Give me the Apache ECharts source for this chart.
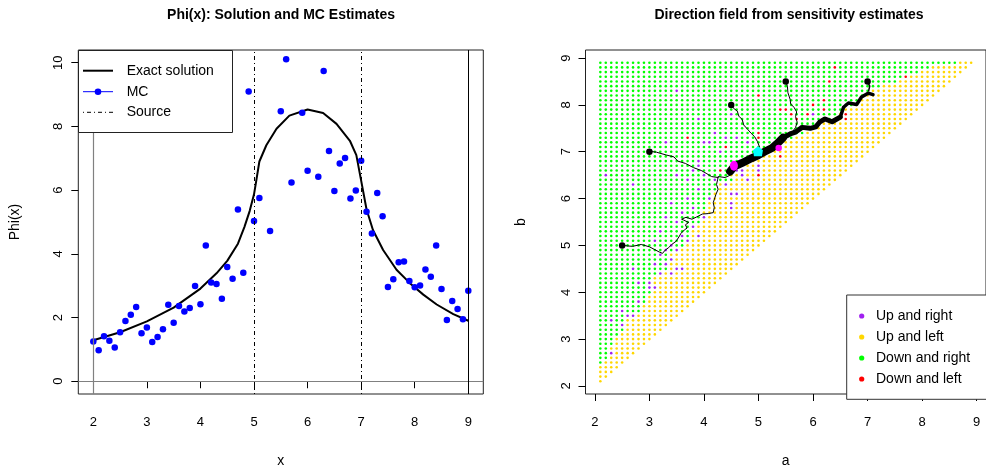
<!DOCTYPE html>
<html>
<head>
<meta charset="utf-8">
<script src="https://cdn.jsdelivr.net/npm/echarts@6/dist/echarts.min.js"></script>
<style>
  html, body { margin: 0; padding: 0; background: #fff; }
  #chart { width: 986px; height: 473px; }
</style>
</head>
<body>
<div id="chart"></div>
<script>
// ---- left panel: Phi(x) ----
var xTicks = [2, 3, 4, 5, 6, 7, 8, 9];
var phiTicks = [0, 2, 4, 6, 8, 10];

// exact solution
var exactX = [2.0, 2.5, 3.0, 3.5, 4.0, 4.3, 4.5, 4.7, 4.82, 4.92, 5.0, 5.05, 5.1, 5.23, 5.42, 5.66, 6.0, 6.29, 6.54, 6.79, 6.91, 7.0, 7.1, 7.22, 7.41, 7.66, 7.91, 8.16, 8.41, 8.72, 9.0];
var exactY = [1.29, 1.54, 1.88, 2.31, 2.91, 3.39, 3.78, 4.32, 4.84, 5.35, 5.87, 6.38, 6.90, 7.41, 7.93, 8.34, 8.53, 8.42, 8.08, 7.55, 7.10, 6.30, 5.40, 4.75, 4.12, 3.50, 3.08, 2.72, 2.41, 2.11, 1.90];

// MC estimates at x = 2.0, 2.1, ... 9.0 (null = outside the plot)
var mcX = [2.0, 2.1, 2.2, 2.3, 2.4, 2.5, 2.6, 2.7, 2.8, 2.9, 3.0, 3.1, 3.2, 3.3, 3.4, 3.5, 3.6, 3.7, 3.8, 3.9,
           4.0, 4.1, 4.2, 4.3, 4.4, 4.5, 4.6, 4.7, 4.8, 4.9, 5.0, 5.1, 5.2, 5.3, 5.4, 5.5, 5.6, 5.7, 5.8, 5.9,
           6.0, 6.1, 6.2, 6.3, 6.4, 6.5, 6.6, 6.7, 6.8, 6.9, 7.0, 7.1, 7.2, 7.3, 7.4, 7.5, 7.6, 7.7, 7.8, 7.9,
           8.0, 8.1, 8.2, 8.3, 8.4, 8.5, 8.6, 8.7, 8.8, 8.9, 9.0];
var mcY = [1.25, 0.97, 1.41, 1.27, 1.06, 1.54, 1.89, 2.09, 2.33, 1.51, 1.69, 1.23, 1.39, 1.63, 2.40, 1.84, 2.36, 2.19, 2.30, 2.99,
           2.42, 4.26, 3.10, 3.05, 2.59, 3.59, 3.22, 5.39, 3.41, 9.10, 5.03, 5.75, null, 4.72, null, 8.48, 10.11, 6.24, null, 8.43,
           6.61, null, 6.42, 9.74, 7.23, 5.97, 6.84, 7.01, 5.74, 5.99, 6.92, 5.32, 4.64, 5.91, 5.18, 2.96, 3.20, 3.74, 3.76, 3.15,
           2.95, 3.01, 3.51, 3.28, 4.26, 2.90, 1.92, 2.52, 2.27, 1.95, 2.84];

// ---- right panel: direction field ----
var abTicks = [2, 3, 4, 5, 6, 7, 8, 9];
// grid values used for both a and b (points with b >= a)
var gridVals = [2.1, 2.2, 2.3, 2.4, 2.5, 2.6, 2.7, 2.8, 2.9, 3.0, 3.1, 3.2, 3.3, 3.4, 3.5, 3.6, 3.7, 3.8, 3.9, 4.0,
                4.1, 4.2, 4.3, 4.4, 4.5, 4.6, 4.7, 4.8, 4.9, 5.0, 5.1, 5.2, 5.3, 5.4, 5.5, 5.6, 5.7, 5.8, 5.9, 6.0,
                6.1, 6.2, 6.3, 6.4, 6.5, 6.6, 6.7, 6.8, 6.9, 7.0, 7.1, 7.2, 7.3, 7.4, 7.5, 7.6, 7.7, 7.8, 7.9, 8.0,
                8.1, 8.2, 8.3, 8.4, 8.5, 8.6, 8.7, 8.8, 8.9];
// per row of b: first column index that is "Up and left" (left of it: "Down and right")
var yellowFrom = [0, 0, 0, 0, 1, 2, 2, 2, 3, 3, 4, 5, 5, 5, 7, 8, 8, 9, 9, 10,
                  11, 10, 10, 12, 13, 13, 14, 13, 14, 16, 16, 17, 17, 18, 19, 19, 19, 20, 20, 21,
                  21, 22, 22, 25, 24, 25, 26, 27, 30, 30, 32, 34, 36, 38, 40, 41, 43, 44, 45, 47,
                  48, 49, 50, 52, 55, 57, 59, 61, 66];
// [column, row] cells that are "Up and right"
var purpleCells = [[2,6],[4,12],[2,13],[5,14],[6,14],[4,15],[7,17],[9,20],[10,20],[7,21],[9,21],[11,23],[13,23],
                   [6,24],[14,24],[15,24],[10,25],[12,25],[13,26],[11,27],[12,28],[14,28],[13,29],[10,30],[16,30],
                   [15,31],[18,31],[11,32],[17,33],[14,34],[12,35],[19,35],[15,36],[17,37],[24,37],[13,38],[24,38],
                   [16,39],[20,39],[24,40],[25,40],[18,41],[6,42],[23,42],[16,43],[21,43],[27,43],[1,44],[14,44],
                   [19,44],[26,44],[17,45],[25,45],[26,45],[29,45],[18,46],[26,46],[29,46],[18,47],[22,49],[12,51],
                   [19,51],[20,51],[27,51],[23,52],[25,52],[21,53],[18,56],[24,57],[39,57],[14,62]];
// [column, row] cells that are "Down and left"
var redCells = [[29,44],[22,45],[33,48],[23,50],[16,52],[29,52],[29,53],[36,56],[45,56],[35,57],[38,57],[45,57],
                [33,58],[34,58],[41,58],[39,59],[41,60],[29,61],[42,64],[56,65],[43,67]];

// sample paths (a, b)
var path1 = [[2.50,5.00],[2.69,4.98],[2.85,5.02],[3.00,4.97],[3.18,4.86],[3.24,4.83],[3.29,4.90],[3.35,4.95],[3.41,5.02],
             [3.49,5.09],[3.54,5.18],[3.58,5.26],[3.64,5.33],[3.69,5.37],[3.66,5.44],[3.72,5.49],[3.63,5.54],[3.59,5.56],
             [3.67,5.60],[3.78,5.56],[3.87,5.61],[3.97,5.67],[4.08,5.68],[4.17,5.70],[4.19,5.81],[4.17,5.91],[4.20,6.02],
             [4.22,6.09],[4.26,6.20],[4.23,6.30],[4.25,6.40],[4.26,6.47],[4.39,6.45],[4.48,6.50]];
var path2 = [[3.00,7.01],[3.13,6.99],[3.31,6.93],[3.45,6.89],[3.52,6.80],[3.66,6.75],[3.81,6.66],[3.95,6.60],[4.04,6.54],
             [4.14,6.47],[4.26,6.45]];
var path3 = [[4.51,8.02],[4.54,7.93],[4.61,7.87],[4.64,7.76],[4.70,7.69],[4.73,7.57],[4.80,7.48],[4.86,7.40],[4.93,7.32],
             [4.98,7.22],[5.02,7.10]];
var path4 = [[5.50,8.50],[5.53,8.40],[5.54,8.26],[5.58,8.12],[5.59,8.02],[5.65,7.95],[5.70,7.85],[5.68,7.75],[5.71,7.63],
             [5.68,7.52],[5.62,7.42]];
var path5 = [[7.00,8.50],[7.04,8.40],[7.02,8.30]];
var cluster = [[4.48,6.58],[4.55,6.68],[4.70,6.76],[4.87,6.86],[5.00,6.93],[5.11,7.00],[5.25,7.08],[5.35,7.18],[5.45,7.30]];
var band = [[5.45,7.30],[5.58,7.38],[5.68,7.42],[5.80,7.52],[5.95,7.50],[6.05,7.53],[6.12,7.63],[6.22,7.70],[6.35,7.64],[6.50,7.74]];
var tail = [[6.50,7.74],[6.56,7.95],[6.65,8.04],[6.80,8.01],[6.89,8.17],[7.01,8.25],[7.10,8.22]];
var startPts = [[2.5,5.0],[3.0,7.0],[4.5,8.0],[5.5,8.5],[7.0,8.5]];
var magentaBig = [[4.55,6.70]];
var magentaSmall = [[5.37,7.08]];
var cyanPt = [[4.99,7.01]];

var FONT = 'Liberation Sans, Arial, Helvetica, sans-serif';
var COL = { up_right: '#A020F0', up_left: '#FFD700', down_right: '#00FF00', down_left: '#FF0000' };

function zip(xs, ys) {
    var out = [];
    for (var i = 0; i < xs.length; i++) out.push([xs[i], ys[i]]);
    return out;
}

// classify the direction field cells
function key(i, j) { return i + '_' + j; }
var purpleSet = {}, redSet = {};
purpleCells.forEach(function (c) { purpleSet[key(c[0], c[1])] = true; });
redCells.forEach(function (c) { redSet[key(c[0], c[1])] = true; });
var field = { up_right: [], up_left: [], down_right: [], down_left: [] };
for (var j = 0; j < gridVals.length; j++) {
    for (var i = 0; i <= j; i++) {
        var cls = i < yellowFrom[j] ? 'down_right' : 'up_left';
        if (purpleSet[key(i, j)]) cls = 'up_right';
        if (redSet[key(i, j)]) cls = 'down_left';
        field[cls].push([gridVals[i], gridVals[j]]);
    }
}

function valueAxis(grid, min, max, ticks, name, gap, isY) {
    return {
        type: 'value', gridIndex: grid, min: min, max: max,
        name: name, nameLocation: 'middle', nameGap: gap,
        nameTextStyle: { fontFamily: FONT, fontSize: 14, color: '#000' },
        axisLine: { show: false },
        axisTick: { show: true, length: 7, inside: false, customValues: ticks, lineStyle: { color: '#000', width: 1 } },
        axisLabel: {
            customValues: ticks, rotate: isY ? 90 : 0, margin: isY ? 13 : 22,
            fontFamily: FONT, fontSize: 13, color: '#000'
        },
        splitLine: { show: false }
    };
}

function fieldSeries(cls) {
    return {
        type: 'scatter', xAxisIndex: 1, yAxisIndex: 1, data: field[cls],
        symbol: 'circle', symbolSize: 2.6, itemStyle: { color: COL[cls], opacity: 1 }, silent: true, z: 2
    };
}

function pathSeries(data, width) {
    return {
        type: 'line', xAxisIndex: 1, yAxisIndex: 1, data: data, symbol: 'none',
        lineStyle: { color: '#000', width: width, join: 'round', cap: 'round' }, silent: true, z: 3
    };
}

function markerSeries(data, symbol, size, color) {
    return {
        type: 'scatter', xAxisIndex: 1, yAxisIndex: 1, data: data, symbol: symbol, symbolSize: size,
        itemStyle: { color: color, opacity: 1 }, z: 6
    };
}

var chart = echarts.init(document.getElementById('chart'), null, { renderer: 'canvas' });
chart.setOption({
    animation: false,
    backgroundColor: '#fff',
    title: [
        { text: 'Phi(x): Solution and MC Estimates', left: 281, top: 8, textAlign: 'center', padding: 0,
          textStyle: { fontFamily: FONT, fontSize: 14, fontWeight: 'bold', color: '#000' } },
        { text: 'Direction field from sensitivity estimates', left: 789, top: 8, textAlign: 'center', padding: 0,
          textStyle: { fontFamily: FONT, fontSize: 14, fontWeight: 'bold', color: '#000' } }
    ],
    grid: [
        { left: 78.3, top: 50, width: 405, height: 349.3, show: true, borderColor: '#222', borderWidth: 1, backgroundColor: 'transparent' },
        { left: 585.5, top: 50, width: 405.4, height: 349.3, show: true, borderColor: '#222', borderWidth: 1, backgroundColor: 'transparent' }
    ],
    xAxis: [
        valueAxis(0, 1.72, 9.28, xTicks, 'x', 60, false),
        valueAxis(1, 1.828, 9.172, abTicks, 'a', 60, false)
    ],
    yAxis: [
        valueAxis(0, -0.4, 10.4, phiTicks, 'Phi(x)', 56, true),
        valueAxis(1, 1.828, 9.172, abTicks, 'b', 57, true)
    ],
    series: [
        {
            name: 'Exact solution', type: 'line', xAxisIndex: 0, yAxisIndex: 0,
            data: zip(exactX, exactY), symbol: 'none', smooth: false,
            lineStyle: { color: '#000', width: 2, join: 'round' }, z: 3,
            markLine: {
                silent: true, symbol: ['none', 'none'], label: { show: false },
                data: [
                    { yAxis: 0, lineStyle: { color: '#808080', width: 1.2, type: 'solid' } },
                    { xAxis: 2, lineStyle: { color: '#808080', width: 1.2, type: 'solid' } },
                    { xAxis: 9, lineStyle: { color: '#000', width: 1, type: 'solid' } },
                    { xAxis: 5, lineStyle: { color: '#000', width: 1, type: [1, 3, 4, 3] } },
                    { xAxis: 7, lineStyle: { color: '#000', width: 1, type: [1, 3, 4, 3] } }
                ]
            }
        },
        {
            name: 'MC', type: 'scatter', xAxisIndex: 0, yAxisIndex: 0,
            data: zip(mcX, mcY).filter(function (p) { return p[1] !== null; }),
            symbol: 'circle', symbolSize: 6.5, itemStyle: { color: '#0000FF', opacity: 1 }, z: 4
        },
        fieldSeries('down_right'),
        fieldSeries('up_left'),
        fieldSeries('up_right'),
        fieldSeries('down_left'),
        pathSeries(path1, 1),
        pathSeries(path2, 1),
        pathSeries(path3, 1),
        pathSeries(path4, 1),
        pathSeries(path5, 1.5),
        pathSeries(cluster, 8),
        pathSeries(band, 5),
        pathSeries(tail, 3.5),
        markerSeries(startPts, 'circle', 6.5, '#000'),
        markerSeries(magentaBig, 'circle', [8, 10], '#FF00FF'),
        markerSeries(magentaSmall, 'circle', 6.5, '#FF00FF'),
        markerSeries(cyanPt, 'path://M5,0 L10,4 L9,10 L1,10 L0,4 Z', [10, 10], '#00FFFF')
    ],
    graphic: [
        // legend, left panel
        { type: 'rect', z: 100, shape: { x: 78.5, y: 50.5, width: 154, height: 82 },
          style: { fill: '#fff', stroke: '#222', lineWidth: 1 } },
        { type: 'line', z: 101, shape: { x1: 83, y1: 70.7, x2: 113, y2: 70.7 }, style: { stroke: '#000', lineWidth: 2 } },
        { type: 'line', z: 101, shape: { x1: 83, y1: 91.7, x2: 113, y2: 91.7 }, style: { stroke: '#0000FF', lineWidth: 1 } },
        { type: 'circle', z: 101, shape: { cx: 98, cy: 91.7, r: 3.3 }, style: { fill: '#0000FF' } },
        { type: 'line', z: 101, shape: { x1: 83, y1: 112.3, x2: 113, y2: 112.3 },
          style: { stroke: '#000', lineWidth: 1, lineDash: [1, 3, 4, 3] } },
        { type: 'text', z: 101, x: 126.7, y: 70.7, style: { text: 'Exact solution', fontFamily: FONT, fontSize: 14, fill: '#000', verticalAlign: 'middle' } },
        { type: 'text', z: 101, x: 126.7, y: 91.7, style: { text: 'MC', fontFamily: FONT, fontSize: 14, fill: '#000', verticalAlign: 'middle' } },
        { type: 'text', z: 101, x: 126.7, y: 112.3, style: { text: 'Source', fontFamily: FONT, fontSize: 14, fill: '#000', verticalAlign: 'middle' } },
        // legend, right panel
        { type: 'rect', z: 100, shape: { x: 846.7, y: 295, width: 150, height: 104.3 },
          style: { fill: '#fff', stroke: '#333', lineWidth: 1 } },
        { type: 'circle', z: 101, shape: { cx: 861.7, cy: 316, r: 2.6 }, style: { fill: COL.up_right } },
        { type: 'circle', z: 101, shape: { cx: 861.7, cy: 337, r: 2.6 }, style: { fill: COL.up_left } },
        { type: 'circle', z: 101, shape: { cx: 861.7, cy: 358, r: 2.6 }, style: { fill: COL.down_right } },
        { type: 'circle', z: 101, shape: { cx: 861.7, cy: 379, r: 2.6 }, style: { fill: COL.down_left } },
        { type: 'text', z: 101, x: 876, y: 316, style: { text: 'Up and right', fontFamily: FONT, fontSize: 14, fill: '#000', verticalAlign: 'middle' } },
        { type: 'text', z: 101, x: 876, y: 337, style: { text: 'Up and left', fontFamily: FONT, fontSize: 14, fill: '#000', verticalAlign: 'middle' } },
        { type: 'text', z: 101, x: 876, y: 358, style: { text: 'Down and right', fontFamily: FONT, fontSize: 14, fill: '#000', verticalAlign: 'middle' } },
        { type: 'text', z: 101, x: 876, y: 379, style: { text: 'Down and left', fontFamily: FONT, fontSize: 14, fill: '#000', verticalAlign: 'middle' } }
    ]
});
</script>
</body>
</html>
